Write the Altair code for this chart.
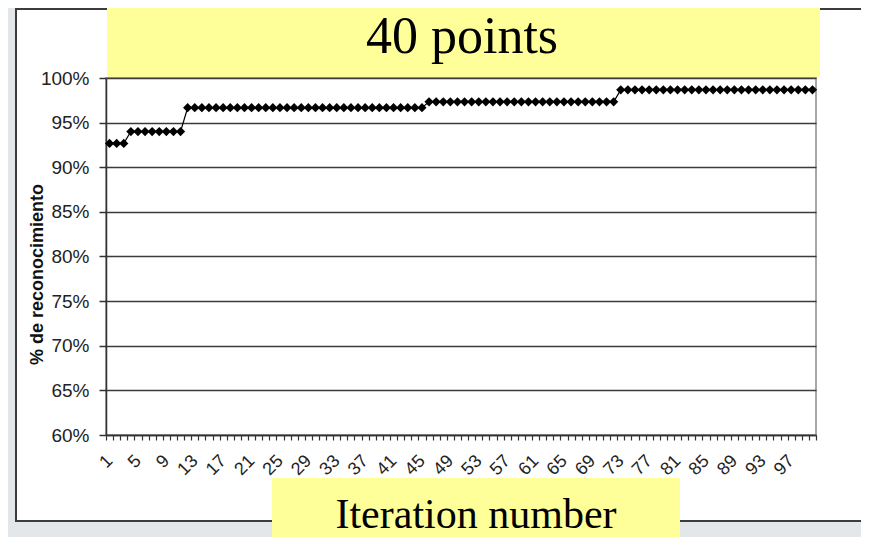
import altair as alt
import pandas as pd

# ---- data ----
iterations = list(range(1, 101))
recognition = (
    [0.9267, 0.9267, 0.9267]
    + [0.94, 0.94, 0.94, 0.94, 0.94, 0.94, 0.94, 0.94]
    + [0.9667] * 34
    + [0.9733] * 27
    + [0.9867] * 28
)
y_ticks = [0.60, 0.65, 0.70, 0.75, 0.80, 0.85, 0.90, 0.95, 1.00]
x_labels = list(range(1, 101, 4))
x_bounds = [v / 2 for v in range(1, 202)]  # band edges + centres

title_text = "40 points"
xlabel_text = "Iteration number"
ytitle_text = "% de reconocimiento"

df = pd.DataFrame({"iter": iterations, "rec": recognition})

W, H = 710, 357
label_list = "[" + ",".join(str(v) for v in x_labels) + "]"

x_enc = alt.X(
    "iter:Q",
    scale=alt.Scale(domain=[0.5, 100.5], nice=False, zero=False),
    axis=alt.Axis(
        values=x_bounds,
        labelExpr=f"indexof({label_list}, datum.value) >= 0 ? '' + datum.value : ''",
        labelOverlap=False,
        labelAngle=-45,
        labelAlign="right",
        labelBaseline="middle",
        labelPadding=18,
        labelFontSize=18,
        labelFont="Liberation Sans",
        labelColor="#222222",
        tickSize=5,
        tickColor="#333333",
        tickWidth=1.2,
        tickOpacity={"condition": {"test": "datum.value % 1 === 0", "value": 0}, "value": 1},
        domainColor="#333333",
        domainWidth=1.5,
        grid=False,
        title=None,
    ),
)
y_enc = alt.Y(
    "rec:Q",
    scale=alt.Scale(domain=[0.6, 1.0], nice=False, zero=False),
    axis=alt.Axis(
        values=y_ticks,
        format=".0%",
        labelFontSize=19,
        labelFont="Liberation Sans",
        labelColor="#222222",
        labelPadding=10,
        tickSize=7,
        tickColor="#333333",
        tickWidth=1.5,
        domainColor="#333333",
        domainWidth=1.5,
        grid=True,
        gridColor="#3a3a3a",
        gridWidth=1.5,
        title=ytitle_text,
        titleFont="Liberation Sans",
        titleFontSize=18,
        titleFontWeight="bold",
        titleColor="#111111",
        titleX=-69,
        titleY=196,
        titleAngle=270,
        titleAlign="center",
        titleBaseline="middle",
    ),
)

one = pd.DataFrame({"k": [0]})


def box(x, x2, y, y2, **kw):
    return alt.Chart(one).mark_rect(**kw).encode(
        x=alt.value(x), x2=alt.value(x2), y=alt.value(y), y2=alt.value(y2)
    )


slide = "#e4e7ea"
bg_left = box(-110, -90, -80, 470, color=slide)
bg_bottom = box(-110, 800, 443, 470, color=slide)
bg_top_right = box(714, 800, -80, -69, color=slide)
frame = box(-90, 800, -69, 443, fill="transparent", stroke="#3c3c3c", strokeWidth=2)
yellow_top = box(1, 714, -80, -1, color="#ffff99")
yellow_bottom = box(166, 574, 400, 470, color="#ffff99")

title = alt.Chart(pd.DataFrame({"t": [title_text]})).mark_text(
    font="Liberation Serif", fontSize=52, color="black", align="center", baseline="alphabetic"
).encode(text="t:N", x=alt.value(356), y=alt.value(-25))

xlabel = alt.Chart(pd.DataFrame({"t": [xlabel_text]})).mark_text(
    font="Liberation Serif", fontSize=42, color="black", align="center", baseline="alphabetic"
).encode(text="t:N", x=alt.value(370), y=alt.value(450))

line = alt.Chart(df).mark_line(color="black", strokeWidth=1.2).encode(x=x_enc, y=y_enc)
pts = alt.Chart(df).mark_point(
    shape="diamond", filled=True, color="black", size=85, opacity=1
).encode(x=x_enc, y=y_enc)

chart = alt.layer(
    bg_left, bg_bottom, bg_top_right, frame, yellow_top, yellow_bottom,
    title, xlabel, line, pts
).properties(
    width=W,
    height=H,
    autosize=alt.AutoSizeParams(type="none"),
    padding={"left": 98, "top": 70, "right": 45, "bottom": 102},
    background="white",
).configure_view(stroke="#a8a8a8", strokeWidth=2)

chart.save("out.html", embed_options={"renderer": "svg", "actions": False})
